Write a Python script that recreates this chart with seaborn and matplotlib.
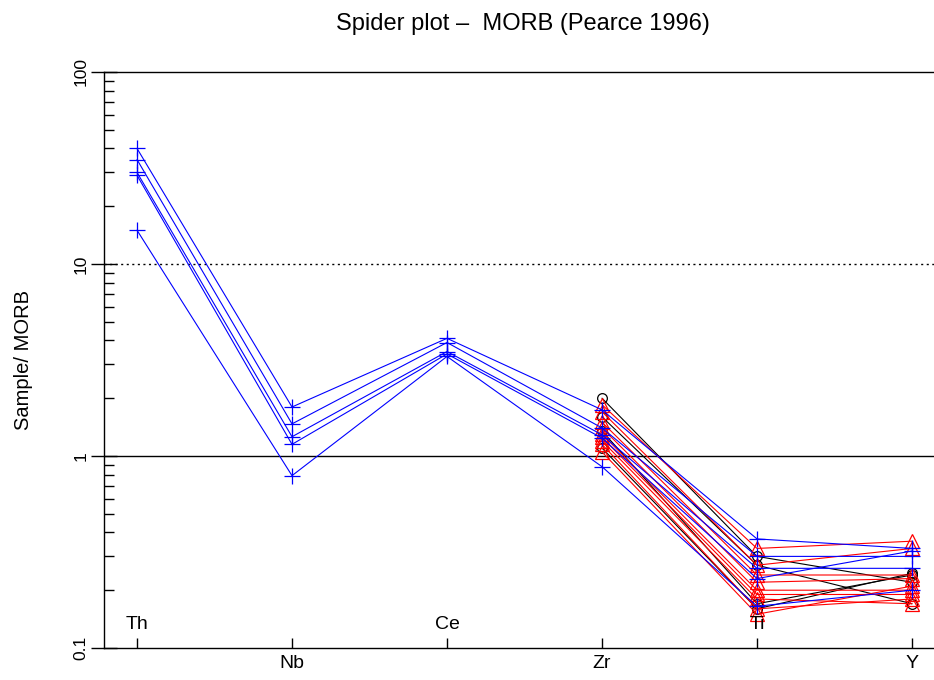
import numpy as np
import pandas as pd
import seaborn as sns
import matplotlib
matplotlib.use("Agg")
import matplotlib.pyplot as plt
from matplotlib.ticker import LogLocator, NullFormatter, FixedLocator, FixedFormatter
import matplotlib.transforms as mtransforms

# Element order along the x axis
elements = ["Th", "Nb", "Ce", "Zr", "Ti", "Y"]

# Group A (blue, plus markers): full pattern Th..Y, MORB-normalised
a_Th = [40.0, 35.0, 30.0, 29.0, 15.0]
a_Nb = [1.80, 1.47, 1.26, 1.15, 0.79]
a_Ce = [4.1, 3.9, 3.5, 3.4, 3.3]
a_Zr = [1.74, 1.40, 1.29, 1.24, 0.88]
a_Ti = [0.37, 0.30, 0.26, 0.23, 0.165]
a_Y = [0.33, 0.30, 0.26, 0.32, 0.20]

# Group B (black, circles): Zr, Ti, Y only
b_Zr = [2.0, 1.6, 1.35, 1.10]
b_Ti = [0.30, 0.27, 0.17, 0.16]
b_Y = [0.22, 0.17, 0.24, 0.245]

# Group C (red, triangles): Zr, Ti, Y only
c_Zr = [1.85, 1.70, 1.50, 1.40, 1.30, 1.25, 1.20, 1.15, 1.05]
c_Ti = [0.33, 0.27, 0.24, 0.22, 0.20, 0.19, 0.18, 0.16, 0.15]
c_Y = [0.36, 0.33, 0.24, 0.23, 0.20, 0.19, 0.17, 0.18, 0.21]

rows = []
def add(group, cols):
    names = list(cols.keys())
    n = len(cols[names[0]])
    for i in range(n):
        for el in names:
            rows.append({"group": group, "sample": f"{group}{i}",
                         "pos": elements.index(el) + 1, "value": cols[el][i]})

add("B", {"Zr": b_Zr, "Ti": b_Ti, "Y": b_Y})
add("C", {"Zr": c_Zr, "Ti": c_Ti, "Y": c_Y})
add("A", {"Th": a_Th, "Nb": a_Nb, "Ce": a_Ce, "Zr": a_Zr, "Ti": a_Ti, "Y": a_Y})
df = pd.DataFrame(rows)

sns.set_style("ticks")
plt.rcParams["font.family"] = ["Liberation Sans", "DejaVu Sans"]
plt.rcParams.update({"text.color": "black", "axes.labelcolor": "black",
                     "xtick.color": "black", "ytick.color": "black"})

fig = plt.figure(figsize=(9.34, 6.8), dpi=100)
ax = fig.add_axes([104 / 934, 1 - 648 / 680, 1 - 104 / 934, (648 - 72) / 680])

palette = {"A": "#0000ff", "B": "#000000", "C": "#ff0000"}
markers = {"A": "+", "B": "o", "C": "^"}
sizes = {"A": 11, "B": 7, "C": 9.5}

for g in ["B", "C", "A"]:
    sub = df[df["group"] == g]
    sns.lineplot(data=sub, x="pos", y="value", units="sample", estimator=None,
                 color=palette[g], marker=markers[g], markersize=sizes[g],
                 linewidth=0.8, sort=True, legend=False, ax=ax)
    for line in ax.lines[-sub["sample"].nunique():]:
        line.set_markeredgecolor(palette[g])
        line.set_markerfacecolor("none")
        line.set_markeredgewidth(0.9)

ax.set_yscale("log")
ax.set_ylim(0.1, 100)
ax.set_xlim(1 - 33 / 155, 6 + 22 / 155)

# Reference levels
ax.axhline(1, color="black", lw=1.0, zorder=0)
ax.axhline(10, color="black", lw=1.0, ls=(0, (1.5, 2.5)), zorder=0)

ax.spines["right"].set_visible(False)
for side in ["left", "bottom", "top"]:
    ax.spines[side].set_color("black")
    ax.spines[side].set_linewidth(1.0)

# y axis ticks
ax.yaxis.set_major_locator(FixedLocator([0.1, 1, 10, 100]))
ax.yaxis.set_major_formatter(FixedFormatter(["0.1", "1", "10", "100"]))
ax.yaxis.set_minor_locator(LogLocator(base=10, subs=np.arange(2, 10)))
ax.yaxis.set_minor_formatter(NullFormatter())
ax.tick_params(axis="y", which="major", direction="inout", length=19, width=1,
               labelsize=12.5, pad=1.5)
ax.tick_params(axis="y", which="minor", direction="in", length=7.5, width=1)
for lab in ax.get_yticklabels():
    lab.set_rotation(90)
    lab.set_va("center")

# x axis ticks: labels alternate below the axis and inside the plot
ax.set_xticks(range(1, 7))
ax.set_xticklabels(["", "Nb", "", "Zr", "", "Y"])
ax.tick_params(axis="x", direction="in", length=7.2, width=1, labelsize=14, pad=5)
trans = mtransforms.blended_transform_factory(ax.transData, ax.transAxes)
for i, el in enumerate(elements):
    if i % 2 == 0:
        ax.text(i + 1, 0.04, el, transform=trans, ha="center", va="center", fontsize=14)

ax.set_xlabel("")
ax.set_ylabel("Sample/ MORB", fontsize=14.5, labelpad=29)
ax.set_title("Spider plot \u2013  MORB (Pearce 1996)", fontsize=17, pad=30, x=0.505)

fig.savefig("out.png", dpi=100)
